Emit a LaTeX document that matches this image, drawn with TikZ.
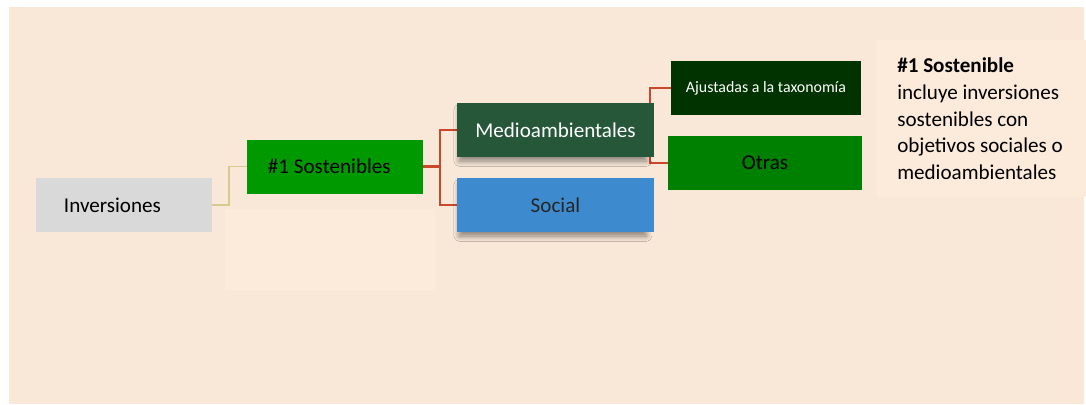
\documentclass[tikz,border=0pt]{standalone}
\usepackage{fontspec}
\setmainfont{Carlito}
\definecolor{pagebg}{RGB}{249,232,216}
\definecolor{notebg}{RGB}{252,234,219}
\definecolor{invgrey}{RGB}{217,217,217}
\definecolor{sostgreen}{RGB}{0,153,0}
\definecolor{medgreen}{RGB}{37,87,56}
\definecolor{socblue}{RGB}{61,139,206}
\definecolor{taxgreen}{RGB}{0,51,0}
\definecolor{otrgreen}{RGB}{0,128,0}
\definecolor{linegold}{RGB}{214,203,143}
\definecolor{linered}{RGB}{201,71,43}
\usetikzlibrary{shadows.blur,backgrounds}
\tikzstyle{box} = [rectangle, inner sep=0pt, font=\fontsize{15}{19}\selectfont, minimum height=1.35cm]
\tikzstyle{shadowbox} = [box, blur shadow={shadow xshift=-2pt, shadow yshift=-4pt, shadow blur steps=8, shadow blur radius=4pt, shadow opacity=45, shadow scale=0.95}]
\tikzstyle{branch} = [draw, line width=1.6pt]

\begin{document}
\begin{tikzpicture}[x=0.025cm, y=-0.025cm]
  \useasboundingbox (0,0) rectangle (1086,404);
  % boxes
  \node[box, fill=invgrey, inner xsep=0.7cm, text width=3.0cm, align=flush left] (inv) at (124,205) {Inversiones};
  \node[box, fill=sostgreen, inner xsep=0.525cm, text width=3.35cm, align=flush left] (sost) at (335,166.5) {\#1 Sostenibles};
  \node[shadowbox, fill=medgreen, text=white, minimum width=4.925cm] (med) at (555.5,130) {Medioambientales};
  \node[shadowbox, fill=socblue, text=black!85, minimum width=4.925cm] (soc) at (555.5,205) {Social};
  \node[box, fill=taxgreen, text=white, minimum width=4.75cm, font=\fontsize{11.3}{13}\selectfont] (aju) at (766,88) {Ajustadas a la taxonomía};
  \node[box, fill=otrgreen, minimum width=4.85cm] (otr) at (765,163) {Otras};
  \node[box, fill=notebg, anchor=north west, inner xsep=0.5cm, text width=4.225cm, align=flush left, minimum height=3.925cm] (note) at (877,40)
    {\textbf{\#1 Sostenible}\\incluye inversiones\\sostenibles con\\objetivos sociales o\\medioambientales};
  \begin{scope}[on background layer]
    \fill[pagebg] (9,7) rectangle (1084,404);
    \fill[notebg] (225,209) rectangle (435,290);
    % connectors
    \draw[branch, linegold, line width=1.2pt] (inv.east) -- ++(17,0) coordinate (j0) |- (sost.west);
    \draw[branch, linered] (sost.east) -- ++(17,0) coordinate (j1) |- (med.west);
    \draw[branch, linered] (j1) |- (soc.west);
    \draw[branch, linered] ([xshift=-0.1cm]med.east) coordinate (j2) |- (aju.west);
    \draw[branch, linered] (j2) |- (otr.west);
  \end{scope}
\end{tikzpicture}
\end{document}
